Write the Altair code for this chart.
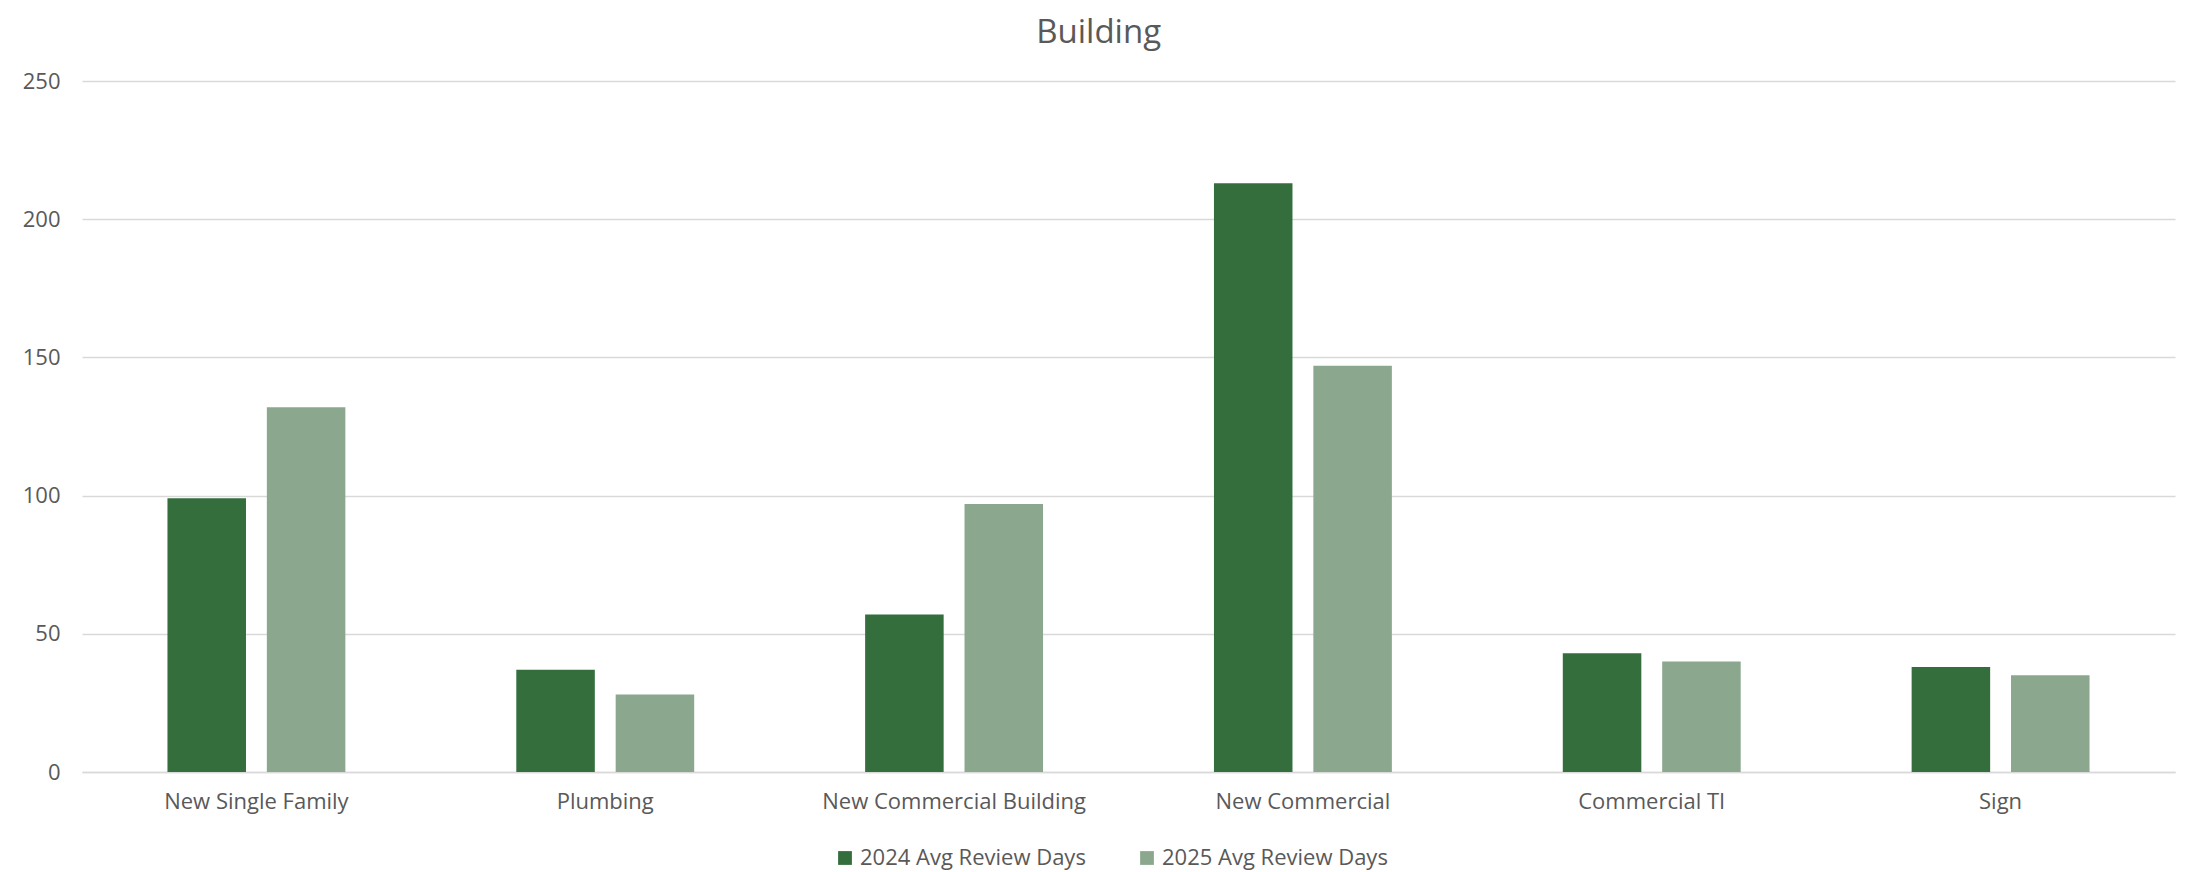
import altair as alt
import pandas as pd

categories = ["New Single Family", "Plumbing", "New Commercial Building",
              "New Commercial", "Commercial TI", "Sign"]
series_names = ["2024 Avg Review Days", "2025 Avg Review Days"]
values_2024 = [99, 37, 57, 213, 43, 38]
values_2025 = [132, 28, 97, 147, 40, 35]
colors = ["#336E3C", "#8BA88E"]

rows = []
for c, v in zip(categories, values_2024):
    rows.append({"category": c, "series": series_names[0], "value": v})
for c, v in zip(categories, values_2025):
    rows.append({"category": c, "series": series_names[1], "value": v})
df = pd.DataFrame(rows)

FONT = "Open Sans"
TXT = "#595959"

chart = alt.Chart(df).mark_bar().encode(
    x=alt.X("category:N", sort=categories, title=None,
            scale=alt.Scale(paddingInner=0.49, paddingOuter=0.245),
            axis=alt.Axis(labelAngle=0, labelFontSize=22, labelColor=TXT,
                          labelFont=FONT, labelPadding=19, ticks=False,
                          labelLimit=0,
                          domainColor="#D9D9D9", domainWidth=1.5)),
    xOffset=alt.XOffset("series:N", sort=series_names,
                        scale=alt.Scale(paddingInner=0.21, paddingOuter=0)),
    y=alt.Y("value:Q", title=None,
            scale=alt.Scale(domain=[0, 250]),
            axis=alt.Axis(values=[0, 50, 100, 150, 200, 250], labelFontSize=22,
                          labelColor=TXT, labelFont=FONT, labelPadding=22,
                          ticks=False, domain=False, gridColor="#D9D9D9",
                          gridWidth=1.5)),
    color=alt.Color("series:N", sort=series_names,
                    scale=alt.Scale(domain=series_names, range=colors),
                    legend=alt.Legend(orient="none", legendX=752, legendY=766,
                                      direction="horizontal",
                                      title=None, symbolType="square",
                                      symbolSize=190, symbolStrokeWidth=0,
                                      labelFontSize=22, labelColor=TXT,
                                      labelFont=FONT, columnPadding=50,
                                      labelLimit=0,
                                      symbolOffset=0, labelOffset=4)),
).properties(
    width=2093,
    height=691,
    title=alt.TitleParams("Building", fontSize=33, font=FONT, color=TXT,
                          fontWeight="normal", anchor="middle", frame="bounds",
                          offset=20),
    padding={"left": 14, "top": 9, "right": 5, "bottom": 5},
).configure_view(stroke=None).configure_axis(grid=True)

chart = chart.configure_axisX(grid=False)

chart.save("out.html", embed_options={"renderer": "svg", "actions": False})
